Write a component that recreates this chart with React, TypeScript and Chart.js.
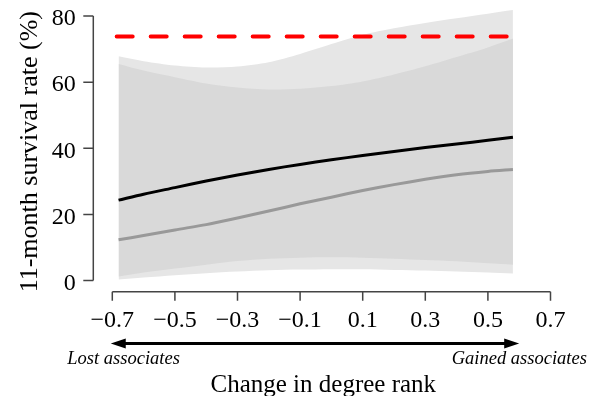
import React, { useEffect, useRef } from "react";
import { Chart, registerables } from "chart.js";

Chart.register(...registerables);

// ---- data ----
const xPoints = [-0.68, -0.6, -0.5, -0.4, -0.3, -0.2, -0.1, 0, 0.1, 0.2, 0.3, 0.4, 0.5, 0.58];
const blackLine = [24.3, 26.1, 28.1, 30.1, 31.9, 33.6, 35.1, 36.5, 37.8, 39.0, 40.2, 41.3, 42.4, 43.3];
const grayLine = [12.3, 13.6, 15.3, 16.9, 18.9, 21.0, 23.2, 25.2, 27.2, 29.0, 30.6, 32.0, 33.0, 33.6];
const outerUpper = [67.8, 66.3, 65.0, 64.4, 64.7, 66.0, 68.5, 71.5, 74.3, 76.3, 77.9, 79.3, 80.7, 81.8];
const outerLower = [0.3, 0.9, 1.6, 2.2, 2.7, 3.1, 3.3, 3.4, 3.4, 3.2, 3.0, 2.7, 2.4, 2.1];
const innerUpper = [65.5, 63.5, 61.5, 59.6, 58.4, 57.8, 58.0, 58.8, 60.2, 62.3, 64.8, 67.6, 70.5, 73.2];
const innerLower = [1.2, 2.4, 3.6, 4.8, 5.9, 6.6, 6.9, 7.0, 6.9, 6.6, 6.2, 5.8, 5.2, 4.8];
const refX = [-0.686, 0.575];
const refY = [73.8, 73.8];

const xTicks = [-0.7, -0.5, -0.3, -0.1, 0.1, 0.3, 0.5, 0.7];
const xTickLabels = ["\u22120.7", "\u22120.5", "\u22120.3", "\u22120.1", "0.1", "0.3", "0.5", "0.7"];
const yTicks = [0, 20, 40, 60, 80];
const yTickLabels = ["0", "20", "40", "60", "80"];

const xTitle = "Change in degree rank";
const yTitle = "11-month survival rate (%)";
const leftNote = "Lost associates";
const rightNote = "Gained associates";
const arrowFrom = -0.705;
const arrowTo = 0.6;

const FONT = "'Liberation Serif', 'Times New Roman', serif";

const pts = (ys: number[], xs: number[] = xPoints) => xs.map((x, i) => ({ x, y: ys[i] }));

const decorPlugin = {
  id: "decor",
  afterDraw(chart: any) {
    const { ctx, chartArea } = chart;
    const xs = chart.scales.x;
    const ys = chart.scales.y;
    ctx.save();
    ctx.strokeStyle = "#444";
    ctx.lineWidth = 1.5;
    // y axis
    const yAxisX = chartArea.left - 19;
    ctx.beginPath();
    ctx.moveTo(yAxisX, ys.getPixelForValue(yTicks[0]));
    ctx.lineTo(yAxisX, ys.getPixelForValue(yTicks[yTicks.length - 1]));
    for (const v of yTicks) {
      const p = ys.getPixelForValue(v);
      ctx.moveTo(yAxisX, p);
      ctx.lineTo(yAxisX - 10, p);
    }
    ctx.stroke();
    // x axis
    const xAxisY = chartArea.bottom + 11.2;
    ctx.beginPath();
    ctx.moveTo(xs.getPixelForValue(xTicks[0]), xAxisY);
    ctx.lineTo(xs.getPixelForValue(xTicks[xTicks.length - 1]), xAxisY);
    for (const v of xTicks) {
      const p = xs.getPixelForValue(v);
      ctx.moveTo(p, xAxisY);
      ctx.lineTo(p, xAxisY + 9);
    }
    ctx.stroke();

    // double arrow
    const ay = 343.5;
    const a0 = xs.getPixelForValue(arrowFrom);
    const a1 = xs.getPixelForValue(arrowTo);
    ctx.strokeStyle = "#000";
    ctx.fillStyle = "#000";
    ctx.lineWidth = 3;
    ctx.beginPath();
    ctx.moveTo(a0 + 10, ay);
    ctx.lineTo(a1 - 10, ay);
    ctx.stroke();
    ctx.beginPath();
    ctx.moveTo(a0, ay);
    ctx.lineTo(a0 + 15, ay - 5);
    ctx.lineTo(a0 + 15, ay + 5);
    ctx.closePath();
    ctx.fill();
    ctx.beginPath();
    ctx.moveTo(a1, ay);
    ctx.lineTo(a1 - 15, ay - 5);
    ctx.lineTo(a1 - 15, ay + 5);
    ctx.closePath();
    ctx.fill();

    // notes
    ctx.font = `italic 18.5px ${FONT}`;
    ctx.textBaseline = "alphabetic";
    ctx.textAlign = "left";
    ctx.fillText(leftNote, 67.3, 364.3);
    ctx.fillText(rightNote, 451.7, 364.3);

    // x title
    ctx.font = `25px ${FONT}`;
    ctx.textAlign = "center";
    ctx.fillText(xTitle, 323.3, 391.5);

    // y title
    ctx.save();
    ctx.translate(36.5, 151.7);
    ctx.rotate(-Math.PI / 2);
    ctx.font = `26px ${FONT}`;
    ctx.textAlign = "center";
    ctx.fillText(yTitle, 0, 0);
    ctx.restore();

    ctx.restore();
  },
};

export default function App() {
  const ref = useRef<HTMLCanvasElement | null>(null);
  useEffect(() => {
    if (!ref.current) return;
    const chart = new Chart(ref.current, {
      type: "line",
      data: {
        datasets: [
          {
            data: pts(outerUpper),
            fill: "+1",
            backgroundColor: "#e6e6e6",
            borderColor: "transparent",
            borderWidth: 0,
            pointRadius: 0,
            tension: 0.3,
            order: 10,
          },
          {
            data: pts(outerLower),
            fill: false,
            borderColor: "transparent",
            borderWidth: 0,
            pointRadius: 0,
            tension: 0.3,
            order: 10,
          },
          {
            data: pts(innerUpper),
            fill: "+1",
            backgroundColor: "#d9d9d9",
            borderColor: "transparent",
            borderWidth: 0,
            pointRadius: 0,
            tension: 0.3,
            order: 9,
          },
          {
            data: pts(innerLower),
            fill: false,
            borderColor: "transparent",
            borderWidth: 0,
            pointRadius: 0,
            tension: 0.3,
            order: 9,
          },
          {
            data: pts(blackLine),
            fill: false,
            borderColor: "#000",
            borderWidth: 3,
            pointRadius: 0,
            tension: 0.3,
            order: 2,
          },
          {
            data: pts(grayLine),
            fill: false,
            borderColor: "#999",
            borderWidth: 3,
            pointRadius: 0,
            tension: 0.3,
            order: 3,
          },
          {
            data: pts(refY, refX),
            fill: false,
            borderColor: "#ff0000",
            borderWidth: 4,
            borderDash: [16, 18],
            borderCapStyle: "round",
            pointRadius: 0,
            order: 1,
          },
        ],
      },
      options: {
        animation: false,
        responsive: false,
        events: [],
        layout: { padding: { top: 2.775, right: 49.5, left: 0, bottom: 0 } },
        plugins: { legend: { display: false }, tooltip: { enabled: false } },
        scales: {
          x: {
            type: "linear",
            min: -0.7,
            max: 0.7,
            grid: { display: false, drawTicks: false, tickLength: 0 },
            border: { display: false },
            afterBuildTicks: (s: any) => {
              s.ticks = xTicks.map((v) => ({ value: v }));
            },
            afterFit: (s: any) => {
              s.height = 115.5;
              s.paddingLeft = 0;
              s.paddingRight = 0;
            },
            ticks: {
              autoSkip: false,
              maxRotation: 0,
              minRotation: 0,
              padding: 28.3,
              color: "#000",
              font: { family: FONT, size: 24, lineHeight: 1 },
              callback: (_v: any, i: number) => xTickLabels[i],
            },
          },
          y: {
            type: "linear",
            min: 0,
            max: 84,
            grid: { display: false, drawTicks: false, tickLength: 0 },
            border: { display: false },
            afterBuildTicks: (s: any) => {
              s.ticks = yTicks.map((v) => ({ value: v }));
            },
            afterFit: (s: any) => {
              s.width = 112.3;
              s.paddingTop = 0;
              s.paddingBottom = 0;
            },
            ticks: {
              padding: 36.6,
              labelOffset: 3,
              color: "#000",
              font: { family: FONT, size: 24, lineHeight: 1 },
              callback: (_v: any, i: number) => yTickLabels[i],
            },
          },
        },
      },
      plugins: [decorPlugin],
    });
    return () => chart.destroy();
  }, []);
  return (
    <div style={{ position: "absolute", left: 0, top: 0, width: 600, height: 396, background: "#fff" }}>
      <canvas ref={ref} width={600} height={396} style={{ display: "block" }} />
    </div>
  );
}
